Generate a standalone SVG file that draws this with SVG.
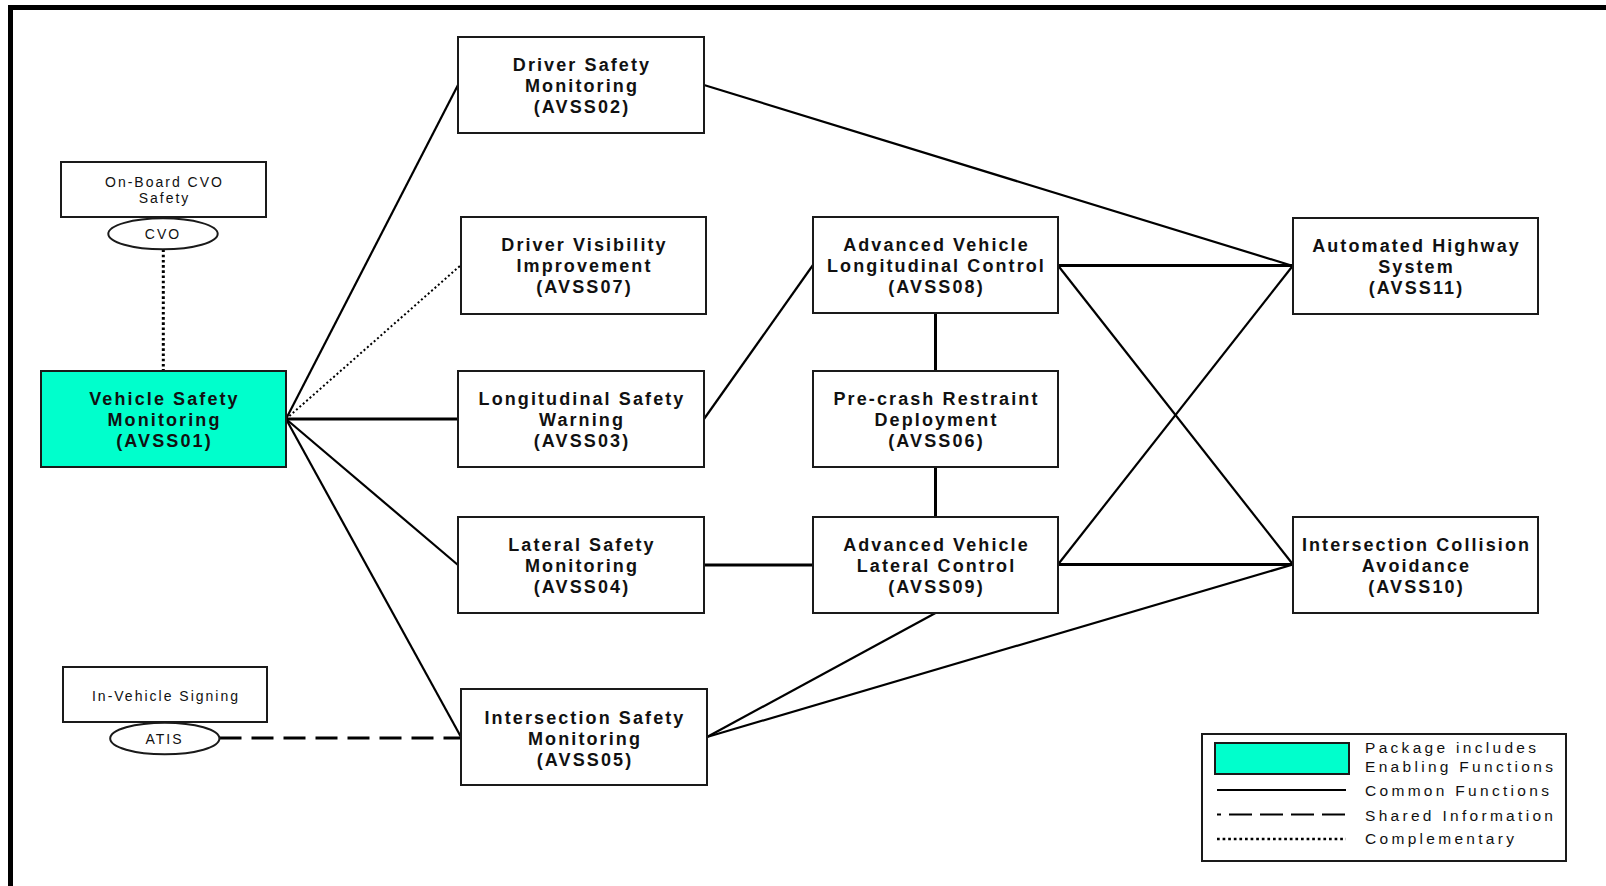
<svg xmlns="http://www.w3.org/2000/svg" width="1606" height="886" viewBox="0 0 1606 886">
<style>
.box{fill:#fff;stroke:#1a1a1a;stroke-width:2}
.pkg{fill:#00FFCC;stroke:#1a1a1a;stroke-width:2}
.t{font-family:"Liberation Sans",Arial,sans-serif;font-weight:bold;font-size:18px;letter-spacing:2.1px;fill:#111;text-anchor:middle}
.s{font-family:"Liberation Sans",Arial,sans-serif;font-size:14px;letter-spacing:2px;fill:#111;text-anchor:middle}
.lg{font-family:"Liberation Sans",Arial,sans-serif;font-size:15.5px;letter-spacing:3.3px;fill:#111}
.c{stroke:#000;stroke-width:2.2;fill:none}
.ck{stroke:#000;stroke-width:3;fill:none}
.dot{stroke:#000;stroke-width:2;fill:none;stroke-dasharray:2 2.5}
.dotk{stroke:#000;stroke-width:3;fill:none;stroke-dasharray:2.6 2.6}
.dash{stroke:#000;stroke-width:3;fill:none;stroke-dasharray:22 10}
</style>
<rect width="1606" height="886" fill="#fff"/>
<path d="M10.5,886 V7.5 H1606" fill="none" stroke="#000" stroke-width="5"/>

<g id="connectors">
<line class="c" x1="286" y1="419" x2="458" y2="85"/>
<line class="dot" x1="286" y1="419" x2="461" y2="265"/>
<line class="ck" x1="286" y1="419" x2="458" y2="419"/>
<line class="c" x1="286" y1="419" x2="458" y2="565"/>
<line class="c" x1="286" y1="419" x2="461" y2="737"/>
<line class="dash" x1="219.5" y1="738" x2="461" y2="738"/>
<line class="dotk" x1="163.3" y1="249.5" x2="163.3" y2="371"/>
<line class="c" x1="704" y1="85" x2="1293" y2="266"/>
<line class="c" x1="704" y1="419" x2="813" y2="265"/>
<line class="ck" x1="935.5" y1="313" x2="935.5" y2="371"/>
<line class="ck" x1="935.5" y1="467" x2="935.5" y2="517"/>
<line class="ck" x1="704" y1="565" x2="813" y2="565"/>
<line class="ck" x1="1058" y1="265.5" x2="1293" y2="265.5"/>
<line class="c" x1="1058" y1="265.5" x2="1293" y2="564.5"/>
<line class="c" x1="1058" y1="564.5" x2="1293" y2="265.5"/>
<line class="ck" x1="1058" y1="564.5" x2="1293" y2="564.5"/>
<line class="c" x1="935.5" y1="613" x2="707" y2="737"/>
<line class="c" x1="707" y1="737" x2="1293" y2="564.5"/>
</g>

<g id="onboard-cvo">
<rect class="box" x="61" y="162" width="205" height="55"/>
<text class="s" x="164.5" y="186.5">On-Board CVO</text>
<text class="s" x="164.5" y="203">Safety</text>
</g>
<g id="cvo">
<ellipse class="box" cx="163" cy="233.8" rx="54.7" ry="15.5"/>
<text class="s" x="163" y="239">CVO</text>
</g>
<g id="in-vehicle-signing">
<rect class="box" x="63" y="667" width="204" height="55"/>
<text class="s" x="166" y="700.5">In-Vehicle Signing</text>
</g>
<g id="atis">
<ellipse class="box" cx="164.8" cy="738.5" rx="54.6" ry="15.8"/>
<text class="s" x="164.5" y="744">ATIS</text>
</g>

<g id="AVSS01">
<rect class="pkg" x="41" y="371" width="245" height="96"/>
<text class="t" x="164.5" y="405">Vehicle Safety</text>
<text class="t" x="164.5" y="426">Monitoring</text>
<text class="t" x="164.5" y="447">(AVSS01)</text>
</g>
<g id="AVSS02">
<rect class="box" x="458" y="37" width="246" height="96"/>
<text class="t" x="582" y="70.5">Driver Safety</text>
<text class="t" x="582" y="91.5">Monitoring</text>
<text class="t" x="582" y="112.5">(AVSS02)</text>
</g>
<g id="AVSS07">
<rect class="box" x="461" y="217" width="245" height="97"/>
<text class="t" x="584.5" y="251">Driver Visibility</text>
<text class="t" x="584.5" y="272">Improvement</text>
<text class="t" x="584.5" y="293">(AVSS07)</text>
</g>
<g id="AVSS03">
<rect class="box" x="458" y="371" width="246" height="96"/>
<text class="t" x="582" y="405">Longitudinal Safety</text>
<text class="t" x="582" y="426">Warning</text>
<text class="t" x="582" y="447">(AVSS03)</text>
</g>
<g id="AVSS04">
<rect class="box" x="458" y="517" width="246" height="96"/>
<text class="t" x="582" y="551">Lateral Safety</text>
<text class="t" x="582" y="572">Monitoring</text>
<text class="t" x="582" y="593">(AVSS04)</text>
</g>
<g id="AVSS05">
<rect class="box" x="461" y="689" width="246" height="96"/>
<text class="t" x="585" y="724">Intersection Safety</text>
<text class="t" x="585" y="745">Monitoring</text>
<text class="t" x="585" y="766">(AVSS05)</text>
</g>
<g id="AVSS08">
<rect class="box" x="813" y="217" width="245" height="96"/>
<text class="t" x="936.5" y="251">Advanced Vehicle</text>
<text class="t" x="936.5" y="272">Longitudinal Control</text>
<text class="t" x="936.5" y="293">(AVSS08)</text>
</g>
<g id="AVSS06">
<rect class="box" x="813" y="371" width="245" height="96"/>
<text class="t" x="936.5" y="405">Pre-crash Restraint</text>
<text class="t" x="936.5" y="426">Deployment</text>
<text class="t" x="936.5" y="447">(AVSS06)</text>
</g>
<g id="AVSS09">
<rect class="box" x="813" y="517" width="245" height="96"/>
<text class="t" x="936.5" y="551">Advanced Vehicle</text>
<text class="t" x="936.5" y="572">Lateral Control</text>
<text class="t" x="936.5" y="593">(AVSS09)</text>
</g>
<g id="AVSS11">
<rect class="box" x="1293" y="218" width="245" height="96"/>
<text class="t" x="1416.5" y="251.5">Automated Highway</text>
<text class="t" x="1416.5" y="272.5">System</text>
<text class="t" x="1416.5" y="293.5">(AVSS11)</text>
</g>
<g id="AVSS10">
<rect class="box" x="1293" y="517" width="245" height="96"/>
<text class="t" x="1416.5" y="551">Intersection Collision</text>
<text class="t" x="1416.5" y="572">Avoidance</text>
<text class="t" x="1416.5" y="593">(AVSS10)</text>
</g>

<g id="legend">
<rect class="box" x="1202" y="734" width="364" height="127"/>
<rect class="pkg" x="1215" y="743" width="134" height="31"/>
<text class="lg" x="1365" y="752.5">Package includes</text>
<text class="lg" x="1365" y="772">Enabling Functions</text>
<line x1="1217" y1="790" x2="1346" y2="790" stroke="#000" stroke-width="2"/>
<text class="lg" x="1365" y="796">Common Functions</text>
<line x1="1217" y1="814.5" x2="1346" y2="814.5" stroke="#000" stroke-width="2.2" stroke-dasharray="4 8 23 8 23 8 23 8 23"/>
<text class="lg" x="1365" y="820.5">Shared Information</text>
<line x1="1217" y1="839" x2="1346" y2="839" stroke="#000" stroke-width="2.7" stroke-dasharray="2.7 2.9"/>
<text class="lg" x="1365" y="844">Complementary</text>
</g>
</svg>
